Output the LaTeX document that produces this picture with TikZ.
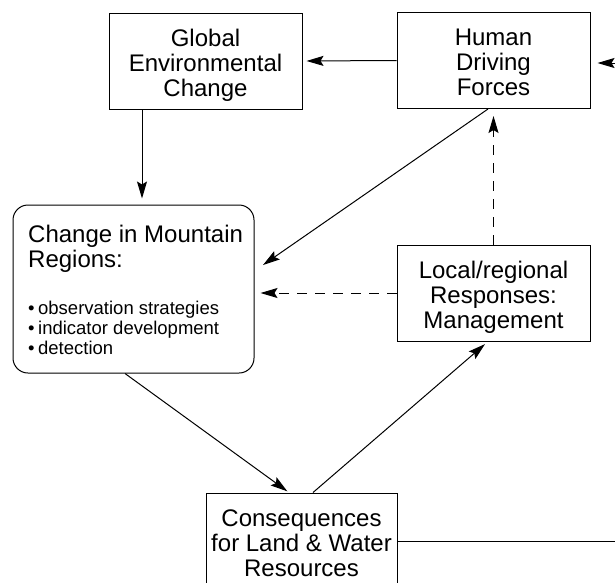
\documentclass[tikz,border=0pt]{standalone}
\usepackage{fontspec}
\setmainfont{Liberation Sans}
\usetikzlibrary{arrows.meta,calc}
\newcommand\TS{\rule{0pt}{25pt}}
\newcommand\BS{\rule[-5pt]{0pt}{5pt}}
\begin{document}
\begin{tikzpicture}[x=1pt,y=-1pt,
  box/.style={draw,line width=1pt,inner sep=0pt,minimum width=193pt,minimum height=96pt,align=center,font=\fontsize{24}{25}\selectfont},
  arr/.style={line width=1pt,-{Stealth[length=17pt,width=10pt,inset=3pt]}},
  dsh/.style={arr,dash pattern=on 10pt off 8pt},
  plain/.style={line width=1pt}]
\useasboundingbox (0,0) rectangle (615,582);
\node[box] (global) at (205.5,61) {\TS Global\\Environmental\\Change\BS};
\node[box] (human) at (493.5,60.5) {\TS Human\\Driving\\Forces\BS};
\node[box] (local) at (493.5,293) {\TS Local/regional\\Responses:\\Management\BS};
\node[box,minimum width=191pt] (cons) at (301.5,541) {\TS Consequences\\for Land \& Water\\Resources\BS};
\node[draw,line width=1pt,rounded corners=15pt,minimum width=241pt,minimum height=168pt] (mountain) at (133.5,289) {};
\node[anchor=north west,inner sep=0pt,align=left,font=\fontsize{24}{25}\selectfont] (mtitle) at (28,217.7) {\TS Change in Mountain\\Regions:};
\node[anchor=north west,inner sep=0pt,align=left,font=\fontsize{18.5}{20}\selectfont] (mlist) at (28,294) {\rule{0pt}{20pt}•\hspace{3.5pt}observation strategies\\•\hspace{3.5pt}indicator development\\•\hspace{3.5pt}detection};
\coordinate (rin) at (615,63);
\draw[arr,shorten >=7pt] (rin) -- (rin -| human.east);
\draw[arr,shorten >=4pt] (human.west) -- (global.east);
\draw[arr,shorten >=6pt] ([xshift=-63.5pt]global.south) -- ([xshift=-63.5pt]global.south |- mountain.north);
\coordinate (hm) at (263,265);
\draw[arr] ([xshift=-5.5pt]human.south) -- (hm);
\draw[dsh,shorten >=7pt] (local.north) -- (human.south);
\draw[dsh,shorten >=6pt] (local.west) -- (local.west -| mountain.east);
\draw[arr,shorten >=2pt] ([xshift=-8.5pt]mountain.south) -- ([xshift=-12.5pt]cons.north);
\draw[arr,shorten >=4pt] ([xshift=11.5pt]cons.north) -- ([xshift=-5.5pt]local.south);
\coordinate (rout) at (615,540);
\draw[plain] (cons.east) -- (cons.east -| rout);
\end{tikzpicture}
\end{document}
